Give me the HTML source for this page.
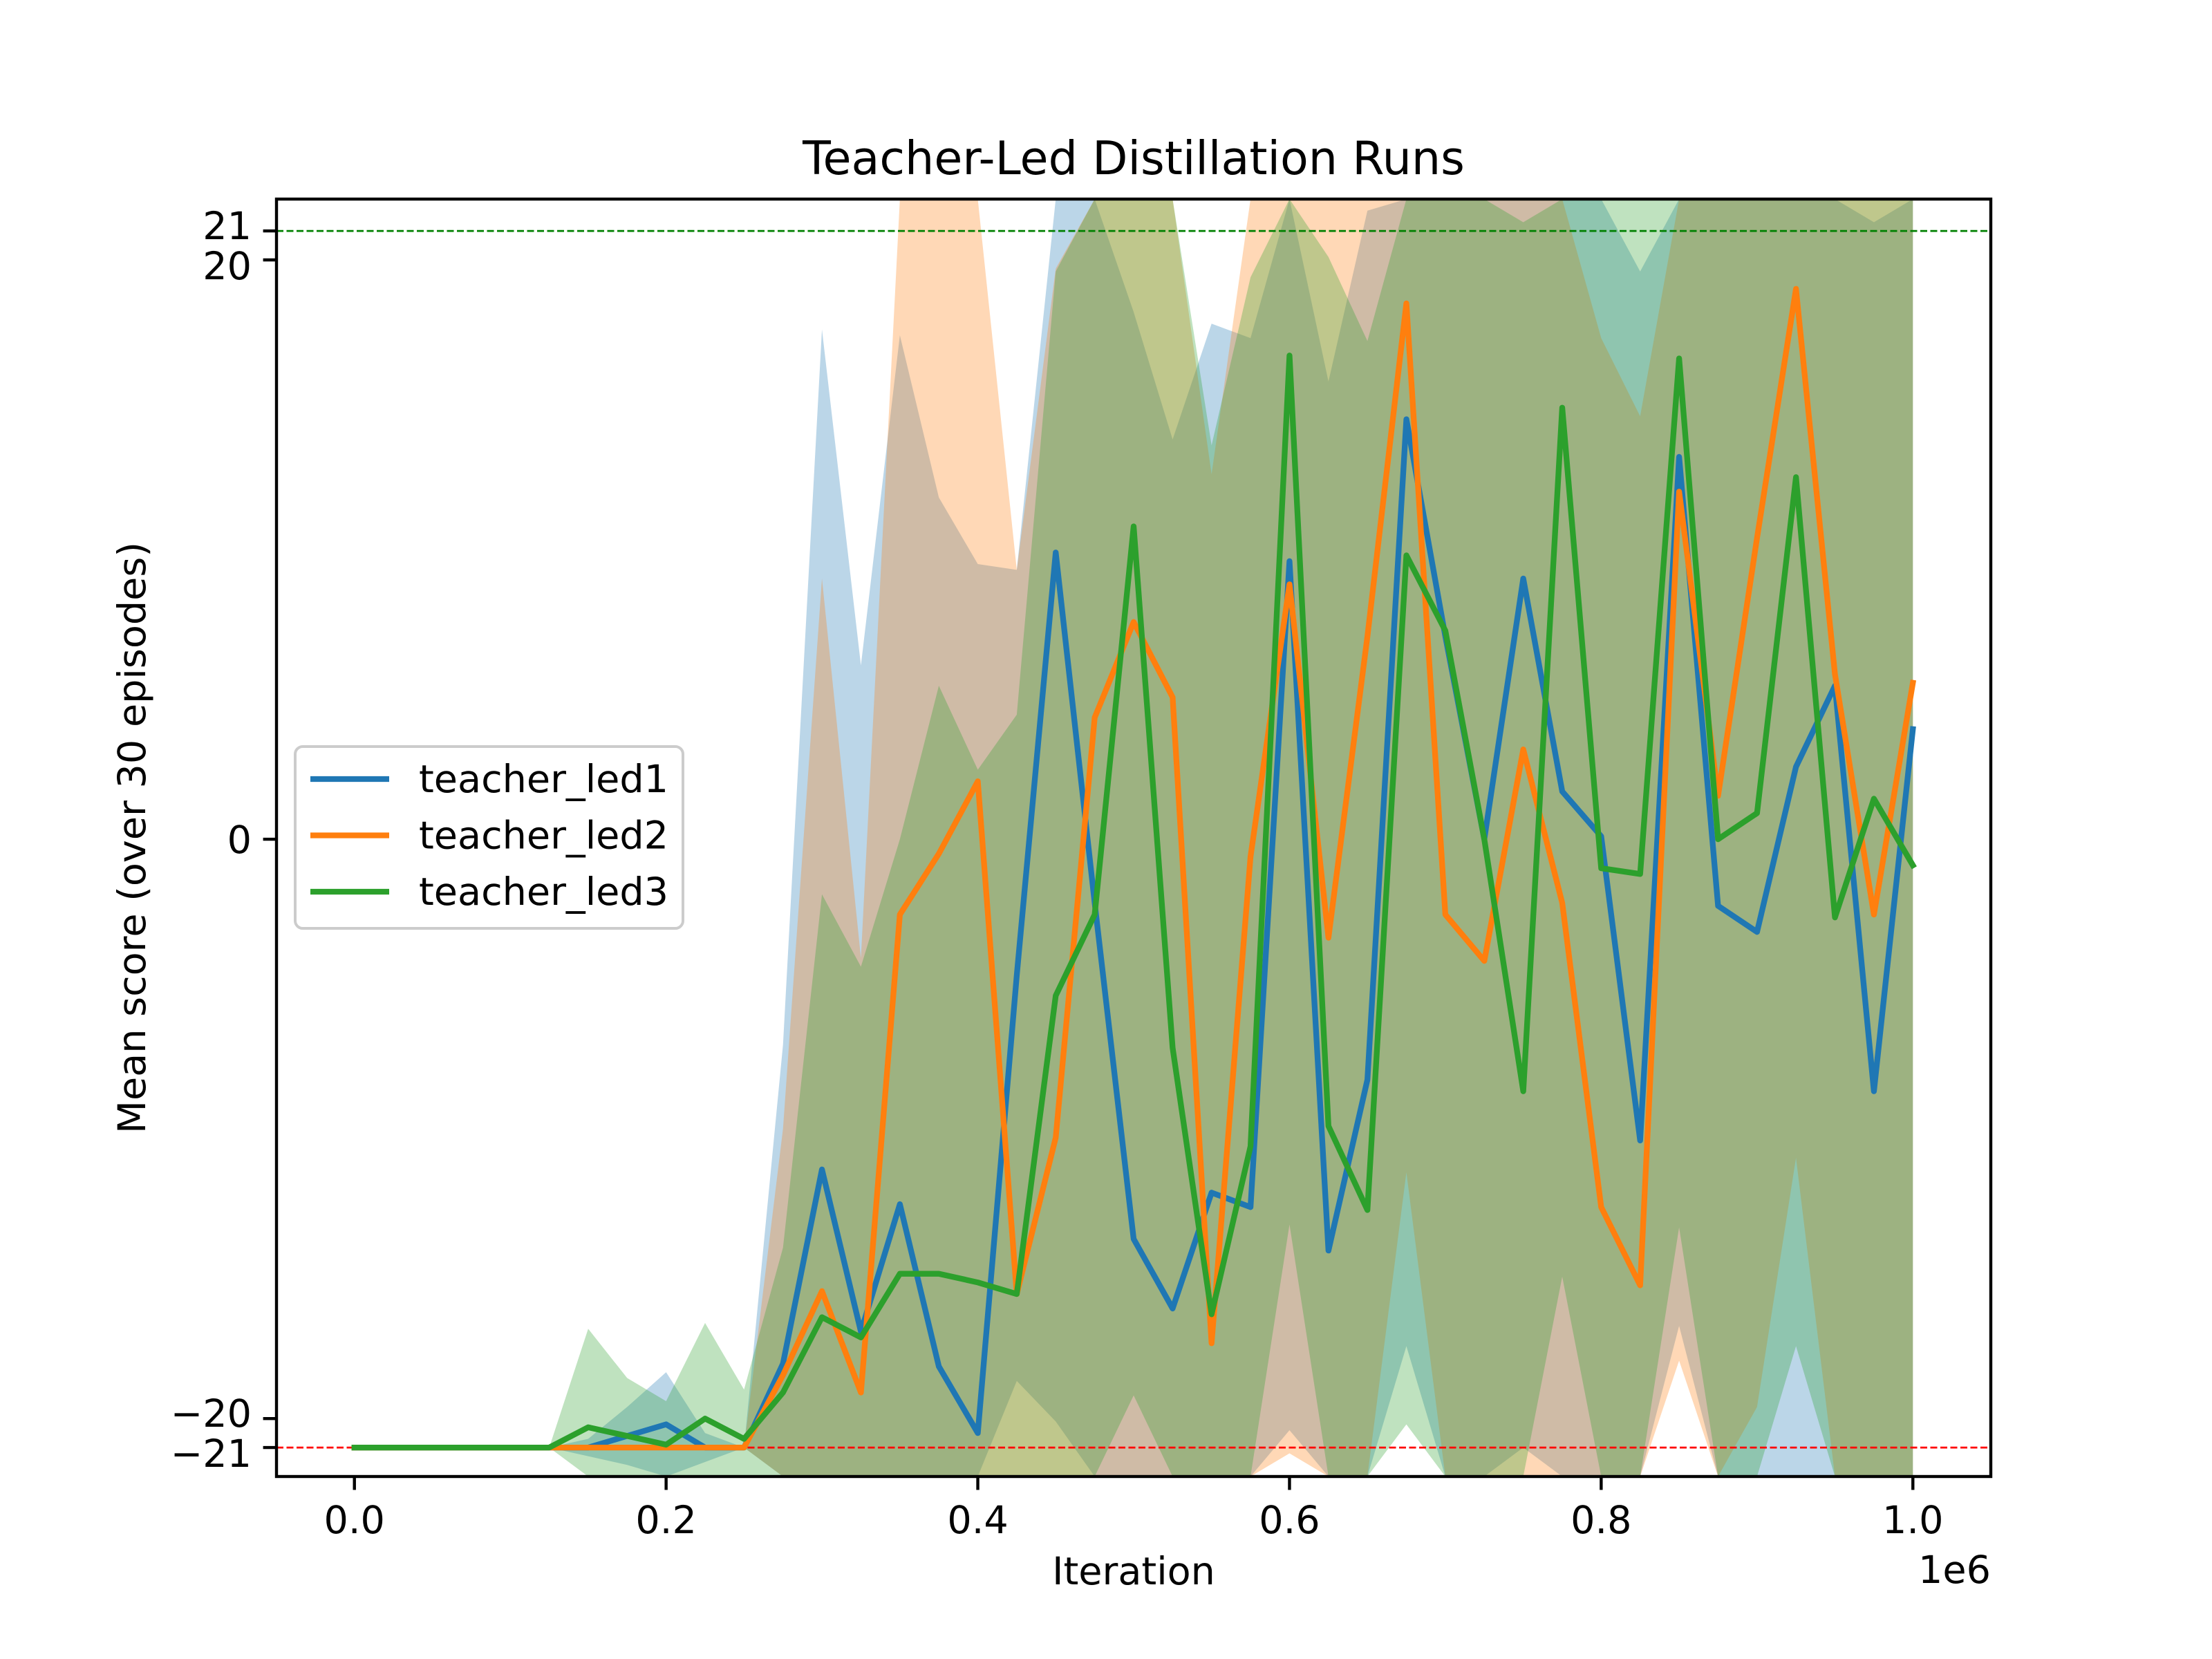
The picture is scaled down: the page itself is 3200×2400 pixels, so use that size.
<!DOCTYPE html>
<html><head><meta charset="utf-8"><style>
html,body{margin:0;padding:0;background:#fff;width:3200px;height:2400px;overflow:hidden}
svg{display:block}
text{font-family:"DejaVu Sans","Liberation Sans",sans-serif;fill:#000}
</style></head><body>
<svg id="chart" width="3200" height="2400" viewBox="0 0 3200 2400" xmlns="http://www.w3.org/2000/svg">
<defs><clipPath id="plotclip"><rect x="400" y="288" width="2480" height="1848"/></clipPath></defs>
<rect width="3200" height="2400" fill="#fff"/>
<text x="1640" y="252" font-size="66.7" text-anchor="middle">Teacher-Led Distillation Runs</text>
<g id="bands" clip-path="url(#plotclip)"></g>
<g id="refs" clip-path="url(#plotclip)"></g>
<g id="lines" clip-path="url(#plotclip)"></g>
<rect x="400" y="288" width="2480" height="1848" fill="none" stroke="#000" stroke-width="4.4"/>
<g id="xticks"></g>
<g id="yticks"></g>
<text x="1640" y="2292" font-size="55.6" text-anchor="middle">Iteration</text>
<text x="2880" y="2290" font-size="55.6" text-anchor="end">1e6</text>
<text transform="translate(210,1212) rotate(-90)" font-size="55.6" text-anchor="middle">Mean score (over 30 episodes)</text>
<g>
<rect x="427" y="1080" width="561" height="263" rx="11" fill="#fff" fill-opacity="0.8" stroke="#ccc" stroke-width="4"/>
<g id="legend-items"></g>
</g>
</svg>
<script>
const iterations = [0,25000,50000,75000,100000,125000,150000,175000,200000,225000,250000,275000,300000,325000,350000,375000,400000,425000,450000,475000,500000,525000,550000,575000,600000,625000,650000,675000,700000,725000,750000,775000,800000,825000,850000,875000,900000,925000,950000,975000,1000000];
const seriesNames = ["teacher_led1","teacher_led2","teacher_led3"];
const led1Mean = [-21,-21,-21,-21,-21,-21,-21,-20.6,-20.2,-21,-21,-18.1,-11.4,-17,-12.6,-18.2,-20.5,-4.7,9.9,-2.2,-13.8,-16.2,-12.2,-12.7,9.6,-14.2,-8.3,14.5,7,0,9,1.65,0.1,-10.4,13.2,-2.3,-3.2,2.5,5.3,-8.7,3.8];
const led2Mean = [-21,-21,-21,-21,-21,-21,-21,-21,-21,-21,-21,-18.5,-15.6,-19.1,-2.6,-0.5,2,-15.7,-10.3,4.2,7.5,4.9,-17.4,-0.6,8.8,-3.4,7,18.5,-2.6,-4.2,3.1,-2.2,-12.7,-15.4,12,1.5,10.4,19,5.7,-2.6,5.4];
const led3Mean = [-21,-21,-21,-21,-21,-21,-20.3,-20.6,-20.9,-20,-20.7,-19.1,-16.5,-17.2,-15,-15,-15.3,-15.7,-5.4,-2.6,10.8,-7.2,-16.4,-10.6,16.7,-9.9,-12.8,9.8,7.2,0,-8.7,14.9,-1,-1.2,16.6,0,0.9,12.5,-2.7,1.4,-0.9];
const led1Std = [0,0,0,0,0,0,0.3,1,1.8,0.5,0,11,29,23,30,30,30,14,30,30,32,30,30,30,30,30,30,32,30,30,30,30,30,30,30,30,30,30,30,30,30];
const led2Std = [0,0,0,0,0,0,0,0,0,0,0,8.5,24.6,15,30,30,30,25,30,30,30,30,30,30,30,30,30,30,30,30,30,30,30,30,30,30,30,30,30,30,30];
const led3Std = [0,0,0,0,0,0,3.4,2,1.5,3.3,1.7,5,14.6,12.8,15,20.3,17.7,20,25,28,30,30,30,30,30,30,30,30,30,30,30,30,30,30,30,30,30,30,30,30,30];
const xTicks = [0,0.2,0.4,0.6,0.8,1.0];
const yTicks = [-21,-20,0,20,21];
const refLines = [-21,21];

const colors = ["#1f77b4","#ff7f0e","#2ca02c"];
const means = [led1Mean,led2Mean,led3Mean];
const stds = [led1Std,led2Std,led3Std];
const NS = "http://www.w3.org/2000/svg";
const YMIN = -22, YMAX = 22.1;
const X = v => 400 + (v/1e6 + 0.05)/1.1*2480;
const Y = v => 288 + (YMAX - v)/(YMAX - YMIN)*1848;
const C = v => Math.max(YMIN, Math.min(YMAX, v));
function mk(tag, attrs, parent){const e=document.createElementNS(NS,tag);for(const k in attrs)e.setAttribute(k,attrs[k]);parent.appendChild(e);return e;}

const bands=document.getElementById('bands'), lines=document.getElementById('lines');
means.forEach((m,s)=>{
  let up=iterations.map((it,i)=>X(it)+','+Y(C(m[i]+stds[s][i])));
  let lo=iterations.map((it,i)=>X(it)+','+Y(C(m[i]-stds[s][i]))).reverse();
  const p=mk('polygon',{points:up.concat(lo).join(' '),fill:colors[s],'fill-opacity':0.3},bands);
  
  
});
means.forEach((m,s)=>{
  const pl=mk('polyline',{points:iterations.map((it,i)=>X(it)+','+Y(m[i])).join(' '),fill:'none',stroke:colors[s],'stroke-width':8.3,'stroke-linejoin':'round','stroke-linecap':'square'},lines);
  
  
});
const refs=document.getElementById('refs');
refLines.forEach((v,i)=>{
  const l=mk('line',{x1:400,x2:2880,y1:Y(v),y2:Y(v),stroke:i==0?'#ff0000':'#008000','stroke-width':2.8,'stroke-dasharray':'10 4.5'},refs);
  
  
});
const xt=document.getElementById('xticks');
xTicks.forEach(t=>{
  const x=X(t*1e6);
  const l=mk('line',{x1:x,x2:x,y1:2136,y2:2155.4,stroke:'#000','stroke-width':4.4},xt);
  
  
  const tx=mk('text',{x:x,y:2218,'font-size':55.6,'text-anchor':'middle'},xt);
  tx.textContent=t.toFixed(1);
  
  
});
const yt=document.getElementById('yticks');
yTicks.forEach(t=>{
  const y=Y(t);
  const l=mk('line',{x1:380.6,x2:400,y1:y,y2:y,stroke:'#000','stroke-width':4.4},yt);
  
  
  const tx=mk('text',{x:364,y:y+(t==21||t==-20?12:t==20||t==-21?28:20),'font-size':55.6,'text-anchor':'end'},yt);
  tx.textContent=t<0?'\u2212'+Math.abs(t):String(t);
  
  
});
const lg=document.getElementById('legend-items');
seriesNames.forEach((n,i)=>{
  const y=1127+i*81.5;
  const l=mk('line',{x1:449,x2:563,y1:y,y2:y,stroke:colors[i],'stroke-width':8.3},lg);
  
  
  const tx=mk('text',{x:606,y:y+19,'font-size':55.6},lg);
  tx.textContent=n;
  
  
});
</script>
</body></html>
